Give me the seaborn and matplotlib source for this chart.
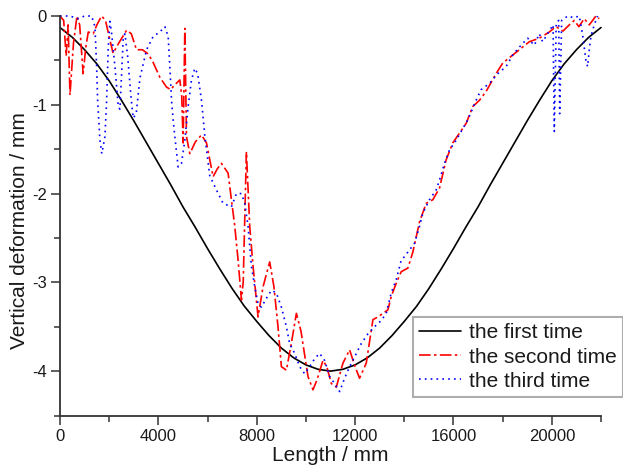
import pandas as pd
import seaborn as sns
import matplotlib.pyplot as plt

# first measurement (smooth)
x_first = [0, 500, 1000, 1500, 2000, 2500, 3000, 3500, 4000, 4500, 5000, 5500, 6000, 6500,
           7000, 7500, 8000, 8500, 9000, 9500, 10000, 10500, 11000, 11500, 12000, 12500,
           13000, 13500, 14000, 14500, 15000, 15500, 16000, 16500, 17000, 17500, 18000,
           18500, 19000, 19500, 20000, 20500, 21000, 21500, 22000]
y_first = [-0.13, -0.24, -0.38, -0.54, -0.73, -0.95, -1.18, -1.42, -1.66, -1.90, -2.15, -2.38, -2.62, -2.85,
           -3.07, -3.27, -3.44, -3.60, -3.74, -3.85, -3.93, -3.98, -4.00, -3.98, -3.93, -3.85,
           -3.74, -3.60, -3.44, -3.27, -3.07, -2.85, -2.62, -2.38, -2.15, -1.90, -1.66,
           -1.42, -1.18, -0.95, -0.73, -0.54, -0.38, -0.24, -0.13]

# second measurement
x_second = [0, 150, 250, 330, 406, 550, 690, 800, 940, 1050,
            1150, 1350, 1500, 1690, 1850, 2030, 2160, 2400, 2710, 2900,
            3110, 3350, 3550, 3750, 4060, 4330, 4500, 4650, 4873, 4950,
            5008, 5076, 5144, 5279, 5500, 5754, 5957, 6091, 6227, 6400,
            6565, 6836, 6971, 7100, 7242, 7378, 7450, 7580, 7716, 7851,
            8054, 8257, 8528, 8700, 8865, 9003, 9206, 9400, 9612, 9800,
            10084, 10287, 10450, 10693, 10850, 11033, 11236, 11506, 11777, 12000,
            12183, 12454, 12725, 12928, 13334, 13469, 13673, 13876, 14145, 14348,
            14619, 14890, 15160, 15431, 15703, 15972, 16244, 16515, 16785, 17056,
            17327, 17733, 18004, 18409, 18815, 19086, 19492, 19898, 20169, 20450,
            20711, 20914, 21100, 21320, 21523, 21794, 21929]
y_second = [0.0, -0.05, -0.45, -0.10, -0.89, -0.30, 0.0, -0.10, -0.65, -0.35,
            -0.18, -0.20, -0.10, 0.0, -0.05, -0.27, -0.42, -0.30, -0.16, -0.20,
            -0.38, -0.38, -0.42, -0.50, -0.69, -0.80, -0.83, -0.78, -0.72, -0.90,
            -1.43, -0.14, -1.36, -1.55, -1.42, -1.34, -1.43, -1.62, -1.81, -1.72,
            -1.66, -1.77, -2.07, -2.35, -2.75, -3.20, -3.00, -1.53, -2.37, -2.82,
            -3.39, -3.05, -2.77, -3.05, -3.50, -3.95, -3.99, -3.70, -3.35, -3.55,
            -4.06, -4.21, -4.10, -3.88, -3.95, -4.14, -4.18, -3.91, -3.76, -3.95,
            -4.08, -3.91, -3.42, -3.39, -3.31, -3.16, -3.01, -2.88, -2.84, -2.66,
            -2.32, -2.11, -2.07, -1.94, -1.62, -1.43, -1.32, -1.21, -1.02, -0.95,
            -0.85, -0.65, -0.53, -0.44, -0.35, -0.29, -0.25, -0.18, -0.12, -0.17,
            -0.10, -0.05, -0.12, -0.03, -0.10, 0.0, -0.03]

# third measurement
x_third = [0, 400, 730, 1000, 1286, 1421, 1490, 1530, 1624, 1700,
           1827, 1896, 1963, 2030, 2100, 2234, 2369, 2437, 2505, 2572,
           2640, 2750, 2900, 2978, 3100, 3249, 3520, 3790, 4061, 4264,
           4398, 4467, 4535, 4602, 4670, 4804, 4941, 5076, 5211, 5347,
           5482, 5600, 5754, 5888, 6091, 6363, 6633, 6971, 7174, 7378,
           7513, 7648, 7784, 7919, 8054, 8190, 8393, 8596, 8800, 9003,
           9206, 9340, 9543, 9746, 9949, 10152, 10355, 10558, 10761, 10964,
           11168, 11371, 11574, 11777, 11980, 12250, 12521, 12792, 13063, 13266,
           13469, 13673, 13876, 14010, 14416, 14619, 14754, 15025, 15296, 15431,
           15635, 15838, 16110, 16582, 16920, 17123, 17462, 17800, 18140, 18409,
           18680, 19018, 19289, 19492, 19627, 19830, 20050, 20100, 20180, 20280,
           20320, 20400, 20643, 20900, 21117, 21251, 21388, 21455, 21523, 21590,
           21726, 21860]
y_third = [0.0, 0.0, -0.03, 0.0, 0.0, -0.12, -0.57, -0.95, -1.40, -1.55,
           -1.36, -0.95, -0.35, -0.06, -0.20, -0.57, -1.02, -1.05, -0.65, -0.25,
           -0.20, -0.45, -0.95, -1.15, -1.10, -0.70, -0.38, -0.23, -0.18, -0.12,
           -0.23, -0.57, -0.95, -1.17, -1.36, -1.70, -1.66, -1.40, -1.02, -0.72,
           -0.59, -0.65, -0.95, -1.35, -1.80, -1.96, -2.11, -2.15, -2.00, -2.00,
           -2.11, -2.37, -2.82, -3.05, -3.24, -3.28, -3.18, -3.09, -3.12, -3.28,
           -3.50, -3.69, -3.80, -3.95, -4.03, -3.95, -3.86, -3.80, -3.88, -4.06,
           -4.14, -4.23, -4.08, -3.95, -3.84, -3.69, -3.58, -3.50, -3.43, -3.35,
           -3.12, -2.97, -2.75, -2.71, -2.56, -2.37, -2.22, -2.07, -1.96, -1.85,
           -1.66, -1.51, -1.40, -1.17, -0.95, -0.83, -0.76, -0.65, -0.57, -0.44,
           -0.35, -0.25, -0.33, -0.20, -0.29, -0.20, -0.10, -1.30, -0.08, -0.05,
           -1.10, -0.05, 0.0, -0.02, 0.0, -0.21, -0.50, -0.57, -0.38, -0.23,
           -0.10, 0.0]

labels = ["the first time", "the second time", "the third time"]

sns.set_style("ticks")
plt.rcParams['font.family'] = ['Liberation Sans', 'DejaVu Sans']
text_col = '#1a1a1a'

fig = plt.figure(figsize=(6.23, 4.71), dpi=100)
ax = fig.add_axes([60/623, 55.5/471, 541/623, 399.5/471])

df1 = pd.DataFrame({"x": x_first, "y": y_first})
df2 = pd.DataFrame({"x": x_second, "y": y_second})
df3 = pd.DataFrame({"x": x_third, "y": y_third})

sns.lineplot(data=df1, x="x", y="y", ax=ax, color='black', lw=1.2,
             estimator=None, label=labels[0], clip_on=False)
sns.lineplot(data=df2, x="x", y="y", ax=ax, color='#ff0000', lw=1.2,
             linestyle=(0, (7, 2, 1.5, 2)), estimator=None, label=labels[1], clip_on=False)
sns.lineplot(data=df3, x="x", y="y", ax=ax, color='#0000ff', lw=1.2,
             linestyle=(0, (1, 2.5)), estimator=None, label=labels[2], clip_on=False)

ax.set_xlim(0, 22000)
ax.set_ylim(-4.5, 0)
ax.set_xticks([0, 4000, 8000, 12000, 16000, 20000])
ax.set_xticks(range(2000, 22001, 4000), minor=True)
ax.set_yticks([-4, -3, -2, -1, 0])
ax.set_yticks([-4.5, -3.5, -2.5, -1.5, -0.5], minor=True)
ax.set_yticklabels(["-4", "-3", "-2", "-1", "0"])

sns.despine(ax=ax)
for s in ["left", "bottom"]:
    ax.spines[s].set_linewidth(1.3)
    ax.spines[s].set_color('#333333')
ax.tick_params(which='major', direction='out', length=6.5, width=1.1, color='#333333',
               labelsize=12, labelcolor=text_col, pad=3)
ax.tick_params(which='minor', direction='out', length=4, width=1.1, color='#333333')

ax.set_xlabel("Length / mm", fontsize=15, color=text_col, labelpad=2)
ax.set_ylabel("Vertical deformation / mm", fontsize=15, color=text_col)
ax.yaxis.set_label_coords(-0.057, 0.464)

leg = ax.legend(loc='lower right', bbox_to_anchor=(1.0, 1 - 397/471),
                bbox_transform=fig.transFigure, borderaxespad=0, frameon=True,
                fancybox=False, fontsize=15, handlelength=2.0, handletextpad=0.4,
                labelspacing=0.25, borderpad=0.3)
leg.get_frame().set_edgecolor('#999999')
leg.get_frame().set_linewidth(1.5)
for t in leg.get_texts():
    t.set_color(text_col)

fig.savefig("out.png", dpi=100)
